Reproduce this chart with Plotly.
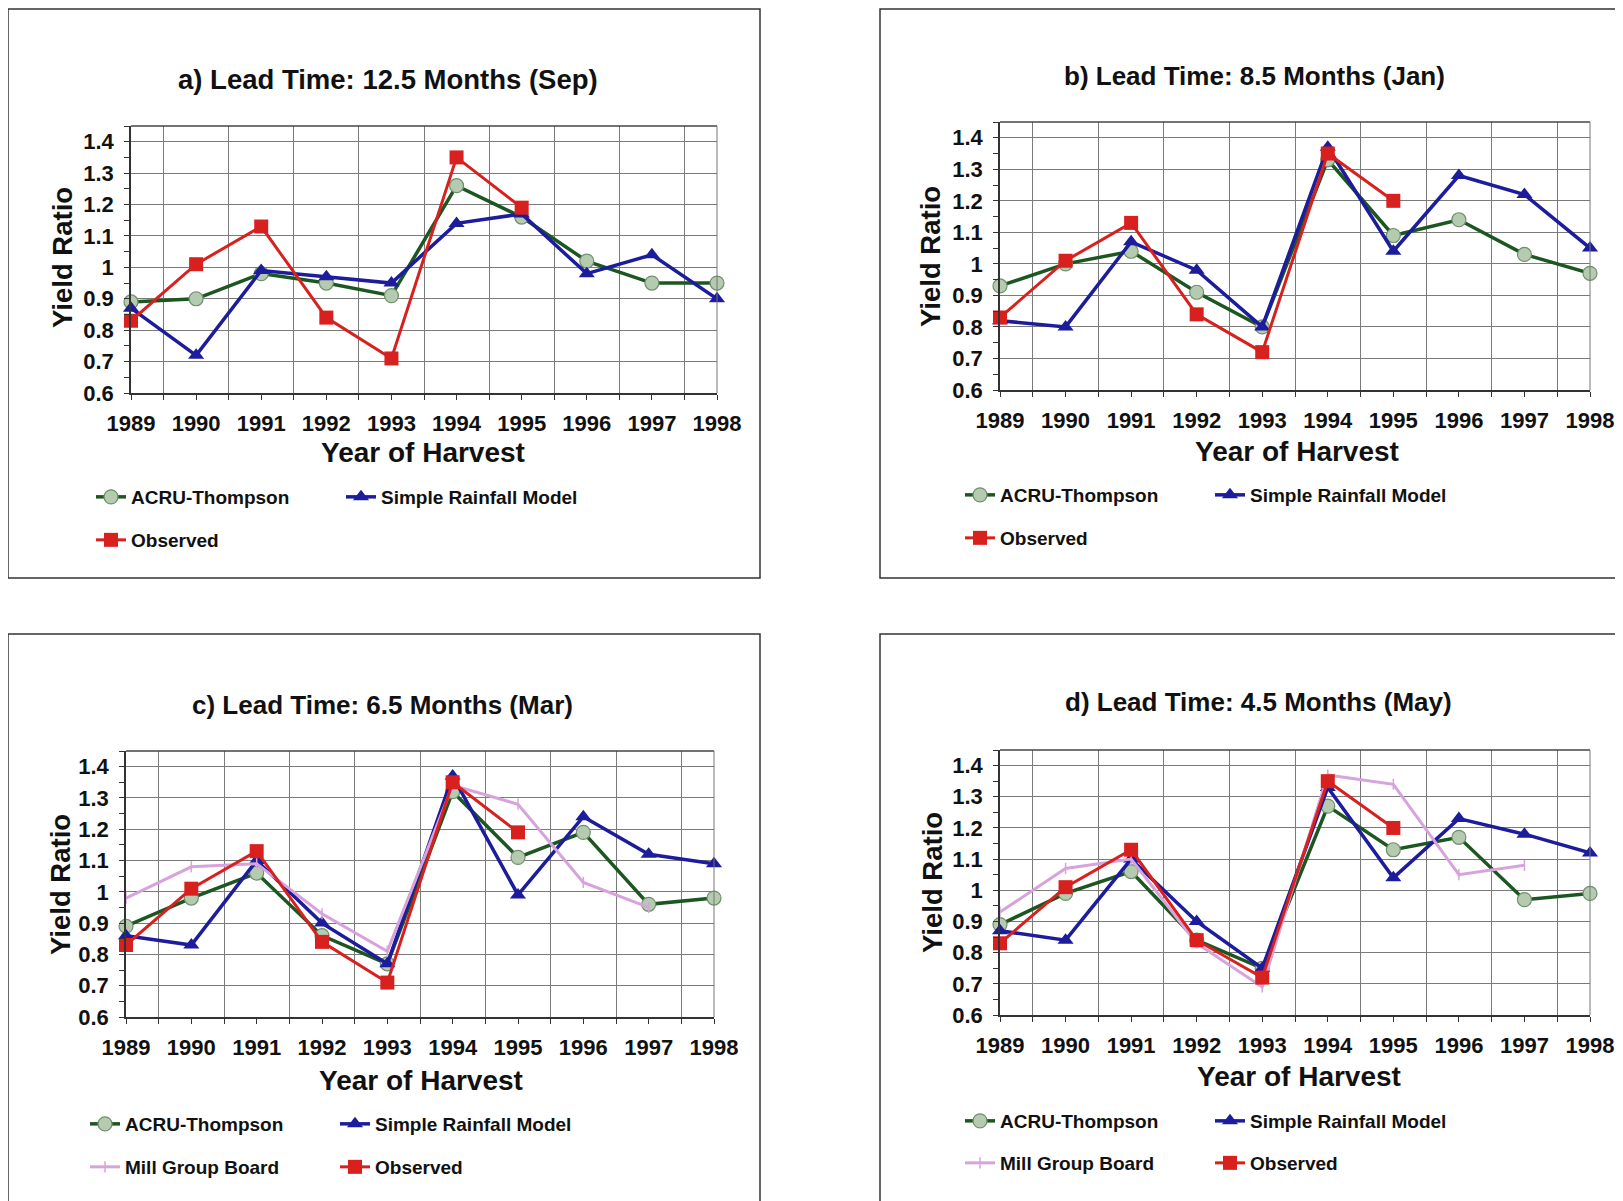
import plotly.graph_objects as go

years = [1989, 1990, 1991, 1992, 1993, 1994, 1995, 1996, 1997, 1998]
ytick_vals = [0.6, 0.7, 0.8, 0.9, 1.0, 1.1, 1.2, 1.3, 1.4]
ytick_text = ["0.6", "0.7", "0.8", "0.9", "1", "1.1", "1.2", "1.3", "1.4"]

titles = ["a) Lead Time: 12.5 Months (Sep)", "b) Lead Time: 8.5 Months (Jan)",
          "c) Lead Time: 6.5 Months (Mar)", "d) Lead Time: 4.5 Months (May)"]

# Panel a (Sep)
acru_a = [0.89, 0.90, 0.98, 0.95, 0.91, 1.26, 1.16, 1.02, 0.95, 0.95]
rain_a = [0.87, 0.72, 0.99, 0.97, 0.95, 1.14, 1.17, 0.98, 1.04, 0.90]
obs_a = [0.83, 1.01, 1.13, 0.84, 0.71, 1.35, 1.19, None, None, None]

# Panel b (Jan)
acru_b = [0.93, 1.00, 1.04, 0.91, 0.80, 1.33, 1.09, 1.14, 1.03, 0.97]
rain_b = [0.82, 0.80, 1.07, 0.98, 0.80, 1.37, 1.04, 1.28, 1.22, 1.05]
obs_b = [0.83, 1.01, 1.13, 0.84, 0.72, 1.35, 1.20, None, None, None]

# Panel c (Mar)
acru_c = [0.89, 0.98, 1.06, 0.86, 0.77, 1.32, 1.11, 1.19, 0.96, 0.98]
rain_c = [0.86, 0.83, 1.10, 0.90, 0.77, 1.37, 0.99, 1.24, 1.12, 1.09]
mill_c = [0.98, 1.08, 1.09, 0.93, 0.81, 1.34, 1.28, 1.03, 0.95, None]
obs_c = [0.83, 1.01, 1.13, 0.84, 0.71, 1.35, 1.19, None, None, None]

# Panel d (May)
acru_d = [0.89, 0.99, 1.06, 0.84, 0.75, 1.27, 1.13, 1.17, 0.97, 0.99]
rain_d = [0.87, 0.84, 1.10, 0.90, 0.75, 1.33, 1.04, 1.23, 1.18, 1.12]
mill_d = [0.93, 1.07, 1.10, 0.83, 0.69, 1.37, 1.34, 1.05, 1.08, None]
obs_d = [0.83, 1.01, 1.13, 0.84, 0.72, 1.35, 1.20, None, None, None]

W, H = 1623, 1201
PAGE_OFF = 8  # browser body margin
FONT = "Liberation Sans"
GREEN, GREEN_FILL = "#1c5620", "#b5cbb0"
BLUE = "#1c1c9c"
RED = "#d8201e"
PINK = "#d7a3dc"

panels = [
    dict(px=(131, 717), py=(126, 393), box=(8, 760, 9, 578), title=(388, 79), tsize=27.5, xt=(423, 452),
         yt=(62, 258), leg1=497, leg2=540, legx=(91, 334)),
    dict(px=(1000, 1590), py=(122, 390), box=(880, 1660, 9, 578), title=(1254, 76), tsize=26, xt=(1297, 451),
         yt=(930, 257), leg1=495, leg2=538, legx=(960, 1205)),
    dict(px=(126, 714), py=(751, 1017), box=(8, 760, 634, 1240), title=(382, 705), tsize=26, xt=(421, 1080),
         yt=(60, 885), leg1=1124, leg2=1167, legx=(85, 330)),
    dict(px=(1000, 1590), py=(750, 1015), box=(880, 1660, 634, 1240), title=(1258, 702), tsize=26, xt=(1299, 1076),
         yt=(932, 883), leg1=1121, leg2=1163, legx=(960, 1205)),
]

series = [
    (acru_a, rain_a, None, obs_a),
    (acru_b, rain_b, None, obs_b),
    (acru_c, rain_c, mill_c, obs_c),
    (acru_d, rain_d, mill_d, obs_d),
]

fig = go.Figure()
layout = dict(width=W, height=H, margin=dict(l=0, r=0, t=0, b=0, autoexpand=False), paper_bgcolor="white",
              plot_bgcolor="white", font=dict(family=FONT, size=19, color="#111", weight="bold"),
              showlegend=True)
shapes, annotations = [], []

def fx(p):
    return (p - PAGE_OFF) / W

def fy(p):
    return 1 - (p - PAGE_OFF) / H

legend_idx = 1
for i, (pn, (acru, rain, mill, obs)) in enumerate(zip(panels, series)):
    ax = "" if i == 0 else str(i + 1)
    xa, ya = "x" + ax, "y" + ax
    lg1 = "legend" if legend_idx == 1 else "legend%d" % legend_idx
    lg2 = "legend%d" % (legend_idx + 1)
    legend_idx += 2

    fig.add_trace(go.Scatter(x=years, y=acru, name="ACRU-Thompson", xaxis=xa, yaxis=ya, legend=lg1,
                             mode="lines+markers", cliponaxis=False,
                             line=dict(color=GREEN, width=3.5),
                             marker=dict(symbol="circle", size=14, color=GREEN_FILL,
                                         line=dict(color="#6f8f6c", width=1.2))))
    fig.add_trace(go.Scatter(x=years, y=rain, name="Simple Rainfall Model", xaxis=xa, yaxis=ya, legend=lg1,
                             mode="lines+markers", cliponaxis=False,
                             line=dict(color=BLUE, width=3.5),
                             marker=dict(symbol="triangle-up", size=14, color=BLUE)))
    if mill is not None:
        fig.add_trace(go.Scatter(x=years, y=mill, name="Mill Group Board", xaxis=xa, yaxis=ya, legend=lg2,
                                 mode="lines+markers", cliponaxis=False,
                                 line=dict(color=PINK, width=3),
                                 marker=dict(symbol="line-ns-open", size=8, color=PINK,
                                             line=dict(color=PINK, width=1.5))))
    fig.add_trace(go.Scatter(x=years, y=obs, name="Observed", xaxis=xa, yaxis=ya, legend=lg2,
                             mode="lines+markers", cliponaxis=False,
                             line=dict(color=RED, width=3),
                             marker=dict(symbol="square", size=14, color=RED)))

    x0, x1 = pn["px"]
    yt_, yb = pn["py"]
    axis_common = dict(showline=True, linecolor="#333", linewidth=1.5, mirror=False, zeroline=False,
                       ticks="outside", ticklen=5, tickcolor="#333", tickwidth=1.2, automargin=False)
    layout["xaxis" + ax] = dict(axis_common, domain=[fx(x0), fx(x1)], range=[1989, 1998], anchor=ya,
                                tickvals=years, ticktext=[str(y) for y in years], showgrid=False,
                                ticklabelstandoff=5,
                                tickfont=dict(family=FONT, size=22, color="#111", weight="bold"),
                                minor=dict(tickvals=[y + 0.5 for y in years[:-1]], showgrid=True,
                                           gridcolor="#7a7a7a", gridwidth=1, ticks="outside", ticklen=5,
                                           tickcolor="#333"))
    layout["yaxis" + ax] = dict(axis_common, domain=[fy(yb), fy(yt_)], range=[0.6, 1.45], anchor=xa,
                                tickvals=ytick_vals, ticktext=ytick_text, showgrid=True,
                                gridcolor="#7a7a7a", gridwidth=1, ticklabelstandoff=6,
                                tickfont=dict(family=FONT, size=22, color="#111", weight="bold"),
                                minor=dict(dtick=0.05, tick0=0.6, ticks="outside", ticklen=5,
                                           tickcolor="#333", showgrid=False))
    shapes.append(dict(type="line", xref="paper", yref="paper", x0=fx(x0), x1=fx(x1), y0=fy(yt_), y1=fy(yt_),
                       line=dict(color="#444", width=1.5)))
    shapes.append(dict(type="line", xref="paper", yref="paper", x0=fx(x1), x1=fx(x1), y0=fy(yb), y1=fy(yt_),
                       line=dict(color="#777", width=1)))
    bx0, bx1, by0, by1 = pn["box"]
    shapes.append(dict(type="rect", xref="paper", yref="paper", x0=fx(bx0), x1=fx(bx1), y0=fy(by1), y1=fy(by0),
                       line=dict(color="#333", width=1.5), fillcolor="rgba(0,0,0,0)", layer="below"))
    annotations.append(dict(text=titles[i], xref="paper", yref="paper", x=fx(pn["title"][0]), y=fy(pn["title"][1]),
                            showarrow=False, xanchor="center", yanchor="middle",
                            font=dict(family=FONT, size=pn["tsize"], color="#111", weight="bold")))
    annotations.append(dict(text="Year of Harvest", xref="paper", yref="paper", x=fx(pn["xt"][0]), y=fy(pn["xt"][1]),
                            showarrow=False, xanchor="center", yanchor="middle",
                            font=dict(family=FONT, size=28, color="#111", weight="bold")))
    annotations.append(dict(text="Yield Ratio", xref="paper", yref="paper", x=fx(pn["yt"][0]), y=fy(pn["yt"][1]),
                            showarrow=False, xanchor="center", yanchor="middle", textangle=-90,
                            font=dict(family=FONT, size=27.5, color="#111", weight="bold")))
    lx = fx(pn["legx"][0])
    for lg, yy in ((lg1, pn["leg1"]), (lg2, pn["leg2"])):
        layout[lg] = dict(x=lx, y=fy(yy), xanchor="left", yanchor="middle", orientation="h",
                          entrywidth=205, entrywidthmode="pixels", bgcolor="rgba(0,0,0,0)",
                          font=dict(family=FONT, size=19, color="#111", weight="bold"))

layout["shapes"] = shapes
layout["annotations"] = annotations
fig.update_layout(**layout)
fig.write_html("out.html")
